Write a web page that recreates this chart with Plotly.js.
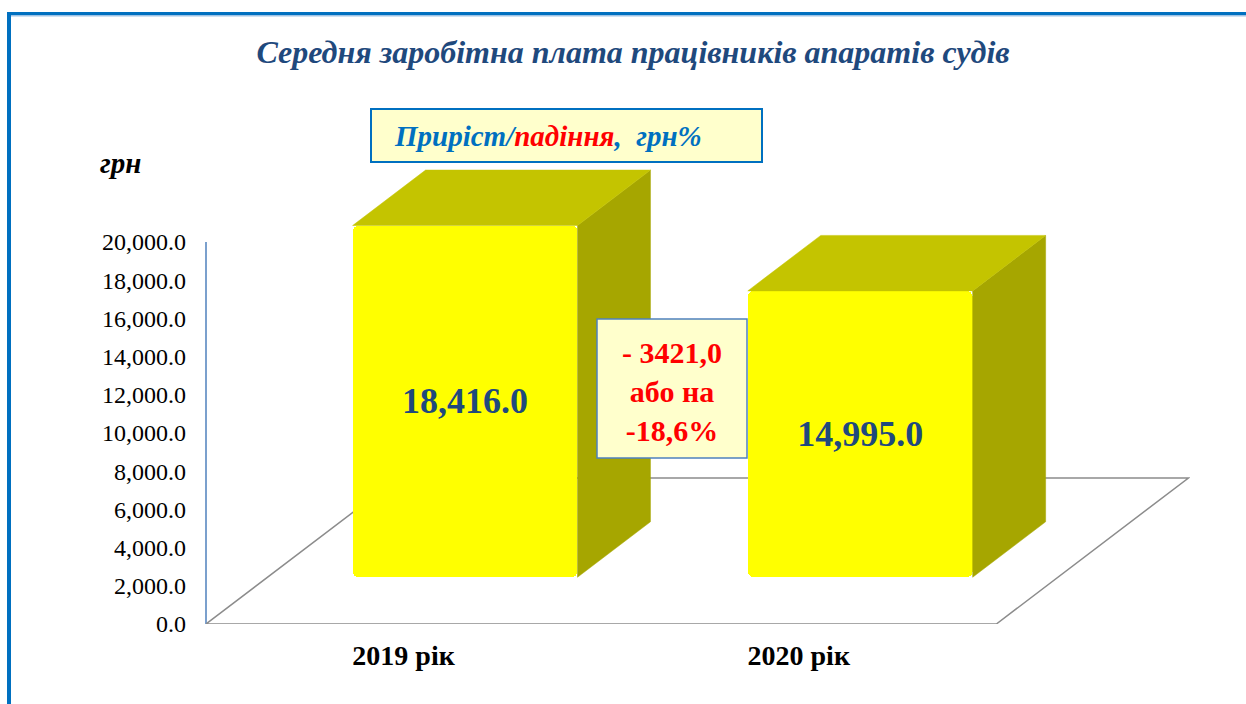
<!DOCTYPE html>
<html>
<head>
<meta charset="utf-8">
<script src="https://cdn.plot.ly/plotly-3.0.1.min.js"></script>
<style>
  html, body { margin: 0; padding: 0; background: #ffffff; }
  #chart { width: 1246px; height: 704px; }
</style>
</head>
<body>
<div id="chart"></div>
<script>
// ---------- data ----------
const categories = ['2019 рік', '2020 рік'];
const values = [18416, 14995];
const yTicks = [0, 2000, 4000, 6000, 8000, 10000, 12000, 14000, 16000, 18000, 20000];
const chartTitle = 'Середня заробітна плата працівників апаратів судів';
const unitLabel = 'грн';
const legendParts = ['Приріст/', 'падіння', ',  грн%'];

// ---------- geometry helpers (layout only) ----------
const W = 1246, H = 704, ML = 206, MR = 56, MT = 150, MB = 80;
const PW = W - ML - MR, PH = H - MT - MB;
const px2x = p => (p - ML) / PW;
const py2y = p => (H - MB - p) / PH;
const yMax = PH / 382 * 20000;          // 382 px for 20000
const xRange = [-0.5, 1.99];
const DX = 0.486, DY = 7644;            // floor depth in data units
const F1 = 0.32, F2 = 0.70;             // bar front/back depth fractions
const BW = 0.569;                       // bar width

const FONT = 'Liberation Serif';

// front faces
const xFront = categories.map((c, i) => i + F1 * DX);
const base = F1 * DY;
const bdx = (F2 - F1) * DX, bdy = (F2 - F1) * DY;

const fmt = v => v.toLocaleString('en-US', {minimumFractionDigits: 1, maximumFractionDigits: 1});

// side and top faces computed from the values
const sideX = [], sideY = [], topX = [], topY = [];
values.forEach((v, i) => {
  const xl = xFront[i] - BW / 2, xr = xFront[i] + BW / 2, top = base + v;
  sideX.push(xr, xr, xr + bdx, xr + bdx, xr, null);
  sideY.push(base, top, top + bdy, base + bdy, base, null);
  topX.push(xl, xl + bdx, xr + bdx, xr, xl, null);
  topY.push(top, top + bdy, top + bdy, top, top, null);
});

const traces = [
  {
    type: 'bar', x: xFront, y: values, base: [base, base], width: BW,
    marker: {color: '#FFFF00', line: {width: 0}, cornerradius: 6},
    text: values.map(v => '<b>' + fmt(v) + '</b>'),
    textposition: 'inside', insidetextanchor: 'middle', textangle: 0,
    constraintext: 'none',
    textfont: {family: FONT, size: 36, color: '#1F497D'},
    hoverinfo: 'skip', cliponaxis: false
  },
  {
    type: 'scatter', mode: 'lines', x: sideX, y: sideY, fill: 'toself',
    fillcolor: '#A6A600', line: {width: 0.5, color: '#A6A600'},
    hoverinfo: 'skip', connectgaps: false, cliponaxis: false
  },
  {
    type: 'scatter', mode: 'lines', x: topX, y: topY, fill: 'toself',
    fillcolor: '#C4C400', line: {width: 0.5, color: '#C4C400'},
    hoverinfo: 'skip', connectgaps: false, cliponaxis: false
  }
];

// difference annotation computed from data
const diff = values[1] - values[0];
const pct = diff / values[0] * 100;
const diffText = (diff < 0 ? '- ' : '+ ') + Math.abs(diff).toFixed(1).replace('.', ',') +
  '<br>або на<br>' + (pct < 0 ? '-' : '+') + Math.abs(pct).toFixed(1).replace('.', ',') + '%';

const shapes = [
  // floor (behind bars)
  {type: 'path', xref: 'x', yref: 'y', layer: 'below',
   path: `M ${xRange[0]} 0 L 1.5 0 L ${1.5 + DX} ${DY} L ${xRange[0] + DX} ${DY} Z`,
   line: {color: '#8C8C8C', width: 1.5}},
  // value axis line
  {type: 'line', xref: 'paper', yref: 'y', x0: 0, x1: 0, y0: 0, y1: 20000,
   line: {color: '#4F81BD', width: 1.5}, layer: 'below'},
  // page frame
  {type: 'line', xref: 'paper', yref: 'paper', x0: px2x(9), x1: px2x(9), y0: py2y(12), y1: py2y(710),
   line: {color: '#0070C0', width: 4}},
  {type: 'line', xref: 'paper', yref: 'paper', x0: px2x(7), x1: px2x(1250), y0: py2y(13.5), y1: py2y(13.5),
   line: {color: '#0070C0', width: 3}},
  {type: 'line', xref: 'paper', yref: 'paper', x0: px2x(11), x1: px2x(1250), y0: py2y(15.8), y1: py2y(15.8),
   line: {color: '#9DC3E6', width: 1.5}},
  // legend-like box
  {type: 'rect', xref: 'paper', yref: 'paper', x0: px2x(371), x1: px2x(762), y0: py2y(162), y1: py2y(109),
   fillcolor: '#FFFFCC', line: {color: '#0070C0', width: 2}},
  // difference box
  {type: 'rect', xref: 'paper', yref: 'paper', x0: px2x(597), x1: px2x(747), y0: py2y(458), y1: py2y(319),
   fillcolor: '#FFFFCC', line: {color: '#4F81BD', width: 1.5}, layer: 'above'}
];

const annotations = [
  {xref: 'paper', yref: 'paper', x: px2x(392), y: py2y(136), xanchor: 'left', yanchor: 'middle',
   showarrow: false, align: 'left',
   text: '<b><i><span style="color:#0070C0">' + legendParts[0] + '</span><span style="color:#FF0000">' +
         legendParts[1] + '</span><span style="color:#0070C0">' + legendParts[2] + '</span></i></b>',
   font: {family: FONT, size: 29}},
  {xref: 'paper', yref: 'paper', x: px2x(672), y: py2y(391), xanchor: 'center', yanchor: 'middle',
   showarrow: false, align: 'center', text: '<b>' + diffText + '</b>',
   font: {family: FONT, size: 30, color: '#FF0000'}},
  {xref: 'paper', yref: 'paper', x: px2x(120), y: py2y(163), xanchor: 'center', yanchor: 'middle',
   showarrow: false, text: '<b><i>' + unitLabel + '</i></b>',
   font: {family: FONT, size: 29, color: '#000000'}}
];

const layout = {
  width: W, height: H,
  margin: {l: ML, r: MR, t: MT, b: MB, pad: 0},
  paper_bgcolor: '#FFFFFF', plot_bgcolor: 'rgba(0,0,0,0)',
  showlegend: false,
  font: {family: FONT},
  title: {
    text: '<b><i>' + chartTitle + '</i></b>',
    font: {family: FONT, size: 32, color: '#1F497D'},
    xref: 'container', yref: 'container', x: 633 / W, xanchor: 'center',
    y: 1 - 52 / H, yanchor: 'middle'
  },
  xaxis: {
    range: xRange, fixedrange: true, showgrid: false, zeroline: false, showline: false,
    tickvals: categories.map((c, i) => i), ticktext: categories, ticks: '',
    tickfont: {family: FONT, size: 28, color: '#000000', weight: 'bold'},
    ticklabelstandoff: 12
  },
  yaxis: {
    range: [0, yMax], fixedrange: true, showgrid: false, zeroline: false, showline: false,
    tickvals: yTicks, tickformat: ',.1f', ticks: '',
    tickfont: {family: FONT, size: 24, color: '#000000'},
    ticklabelstandoff: 19
  },
  shapes: shapes,
  annotations: annotations,
  bargap: 0
};

Plotly.newPlot('chart', traces, layout, {displayModeBar: false, staticPlot: true});
</script>
</body>
</html>
